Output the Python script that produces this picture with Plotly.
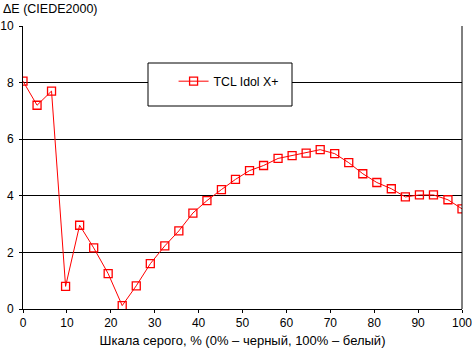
import plotly.graph_objects as go

x_vals = [0, 3.2, 6.5, 9.7, 12.9, 16.1, 19.4, 22.6, 25.8, 29.0, 32.3, 35.5, 38.7, 41.9, 45.2, 48.4,
          51.6, 54.8, 58.1, 61.3, 64.5, 67.7, 71.0, 74.2, 77.4, 80.6, 83.9, 87.1, 90.3, 93.5, 96.8, 100]
de_vals = [8.05, 7.2, 7.7, 0.8, 2.96, 2.16, 1.25, 0.12, 0.82, 1.6, 2.23, 2.76, 3.39, 3.83, 4.22, 4.58,
           4.89, 5.07, 5.32, 5.42, 5.51, 5.63, 5.49, 5.17, 4.78, 4.47, 4.25, 3.96, 4.03, 4.03, 3.86, 3.54]
series_name = "TCL Idol X+"
x_title = "Шкала серого, % (0% – черный, 100% – белый)"
y_title = "ΔE (CIEDE2000)"

FONT = "Liberation Sans, Arial, sans-serif"
FS = 11

fig = go.Figure()
fig.add_trace(go.Scatter(
    x=x_vals, y=de_vals, name=series_name, mode="lines+markers",
    line=dict(color="#ff0000", width=1),
    marker=dict(symbol="square-open", size=8, color="#ff0000", line=dict(width=1.3, color="#ff0000")),
))

fig.update_layout(
    width=472, height=352,
    margin=dict(l=23, r=10, t=26, b=43, autoexpand=False),
    paper_bgcolor="white", plot_bgcolor="white",
    font=dict(family=FONT, size=FS, color="black"),
    showlegend=True,
    legend=dict(x=0.343, y=0.805, xanchor="left", yanchor="middle",
                bgcolor="rgba(0,0,0,0)", borderwidth=0, font=dict(size=12.3)),
    shapes=[dict(type="rect", xref="paper", yref="paper",
                 x0=(148-23)/439, x1=(292-23)/439, y0=(309-106)/283, y1=(309-63)/283,
                 line=dict(color="black", width=1), fillcolor="white", layer="above")],
    annotations=[dict(text=y_title, xref="paper", yref="paper", x=-22/439, y=1 + 26/283,
                      xanchor="left", yanchor="top", showarrow=False, font=dict(size=12.5))],
)
fig.update_xaxes(range=[0, 100], tickvals=[0, 10, 20, 30, 40, 50, 60, 70, 80, 90, 100],
                 ticks="outside", ticklen=3, tickcolor="black", showgrid=False, automargin=False,
                 ticklabeloverflow="allow", tickfont=dict(size=12),
                 showline=True, linecolor="black", linewidth=1, mirror=False, zeroline=False,
                 title=dict(text=x_title, standoff=6))
fig.update_yaxes(range=[0, 10], tickvals=[0, 2, 4, 6, 8, 10], automargin=False,
                 ticklabeloverflow="allow", tickfont=dict(size=12), ticklabelstandoff=3,
                 ticks="outside", ticklen=3, tickcolor="black", showgrid=True, gridcolor="black", gridwidth=1,
                 showline=True, linecolor="black", linewidth=1, zeroline=False)
# right border line
fig.add_shape(type="line", xref="paper", yref="paper", x0=1, x1=1, y0=0, y1=1,
              line=dict(color="black", width=1))

fig.write_html("out.html")
